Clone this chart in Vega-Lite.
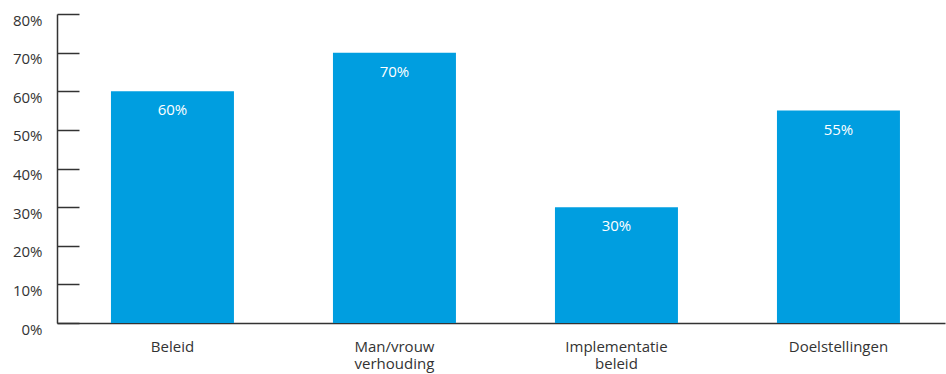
{
  "$schema": "https://vega.github.io/schema/vega-lite/v6.json",
  "autosize": "none",
  "width": 888,
  "height": 309,
  "padding": {"left": 57, "top": 14, "right": 1, "bottom": 51},
  "background": "white",
  "config": {"view": {"stroke": null}, "font": "Open Sans"},
  "data": {"values": [
    {"cat": "Beleid", "v": 0.60},
    {"cat": "Man/vrouw verhouding", "v": 0.70},
    {"cat": "Implementatie beleid", "v": 0.30},
    {"cat": "Doelstellingen", "v": 0.55}
  ]},
  "encoding": {
    "x": {"field": "cat", "type": "nominal", "sort": null,
      "scale": {"paddingInner": 0.446, "paddingOuter": 0.223, "align": 0.545},
      "axis": {"title": null, "labelAngle": 0, "ticks": false, "domainColor": "#333333", "domainWidth": 1.5,
        "labelColor": "#333333", "labelFontSize": 15, "labelPadding": 16, "labelLineHeight": 17.5,
        "labelExpr": "split(datum.label, ' ')"}},
    "y": {"field": "v", "type": "quantitative",
      "scale": {"domain": [0, 0.8], "nice": false},
      "axis": {"title": null, "values": [0, 0.1, 0.2, 0.3, 0.4, 0.5, 0.6, 0.7, 0.8], "format": ".0%",
        "grid": false, "tickSize": -22, "tickColor": "#333333", "tickWidth": 1.5, "domainColor": "#333333", "domainWidth": 1.5,
        "labelColor": "#333333", "labelFontSize": 15, "labelPadding": 37, "labelOffset": 6}}
  },
  "layer": [
    {"mark": {"type": "bar", "color": "#009ee0"}},
    {"mark": {"type": "text", "color": "white", "fontSize": 15, "baseline": "middle", "dy": 19},
     "encoding": {"text": {"field": "v", "type": "quantitative", "format": ".0%"}}}
  ]
}
